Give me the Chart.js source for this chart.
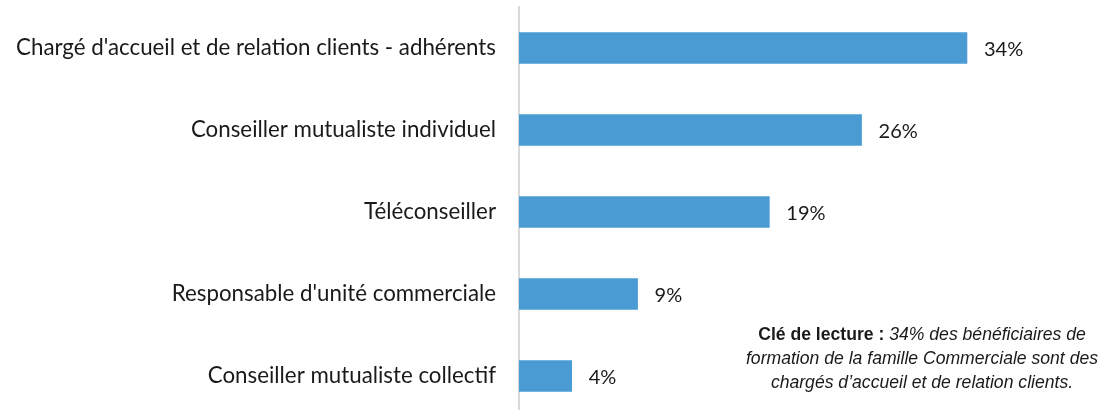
<!DOCTYPE html>
<html>
<head>
<meta charset="utf-8">
<script src="https://cdn.jsdelivr.net/npm/chart.js@4/dist/chart.umd.min.js"></script>
<style>
  html, body { margin: 0; padding: 0; background: #fff; overflow: hidden; }
  #wrap { position: relative; width: 1114px; height: 420px; }
  #note {
    position: absolute; left: 737px; top: 322px; width: 370px;
    font-family: "Liberation Sans", Arial, sans-serif; font-size: 17.6px;
    line-height: 24px; text-align: center; color: #1a1a1a;
  }
  #note i { font-style: italic; }
</style>
</head>
<body>
<div id="wrap">
  <canvas id="myChart" width="1114" height="420"></canvas>
  <div id="note"><b>Clé de lecture :</b> <i>34% des bénéficiaires de formation de la famille Commerciale sont des chargés d’accueil et de relation clients.</i></div>
</div>
<script>
var categories = [
  "Chargé d'accueil et de relation clients - adhérents",
  "Conseiller mutualiste individuel",
  "Téléconseiller",
  "Responsable d'unité commerciale",
  "Conseiller mutualiste collectif"
];
var values = [34, 26, 19, 9, 4];

// write the percentage at the end of each bar
var valueLabels = {
  id: "valueLabels",
  afterDatasetsDraw: function (chart) {
    var ctx = chart.ctx;
    var meta = chart.getDatasetMeta(0);
    ctx.save();
    ctx.font = "20px Lato";
    ctx.fillStyle = "#1a1a1a";
    ctx.textAlign = "left";
    ctx.textBaseline = "middle";
    meta.data.forEach(function (bar, i) {
      ctx.fillText(values[i] + "%", bar.x + 17, bar.y + 2);
    });
    ctx.restore();
  }
};

window.addEventListener("load", function () {
  var chartdata = document.getElementById("myChart").getContext("2d");
  new Chart(chartdata, {
    type: "bar",
    data: {
      labels: categories,
      datasets: [{
        data: values,
        backgroundColor: "#4A9BD3",
        barThickness: 31
      }]
    },
    plugins: [valueLabels],
    options: {
      indexAxis: "y",
      responsive: false,
      animation: false,
      layout: { padding: { top: 7, right: 68, bottom: 3, left: 0 } },
      plugins: { legend: { display: false }, tooltip: { enabled: false } },
      scales: {
        x: { display: false, min: 0, max: 40 },
        y: {
          grid: { display: false, drawTicks: false },
          border: { display: true, color: "#d9d9d9", width: 2 },
          ticks: { color: "#1a1a1a", font: { family: "Lato", size: 22.3 }, padding: 23 },
          afterFit: function (scale) {
            scale.width = 519;
            // tick padding would otherwise push the plot area down
            scale.paddingTop = 0;
            scale.paddingBottom = 0;
          }
        }
      }
    }
  });
});
</script>
</body>
</html>
